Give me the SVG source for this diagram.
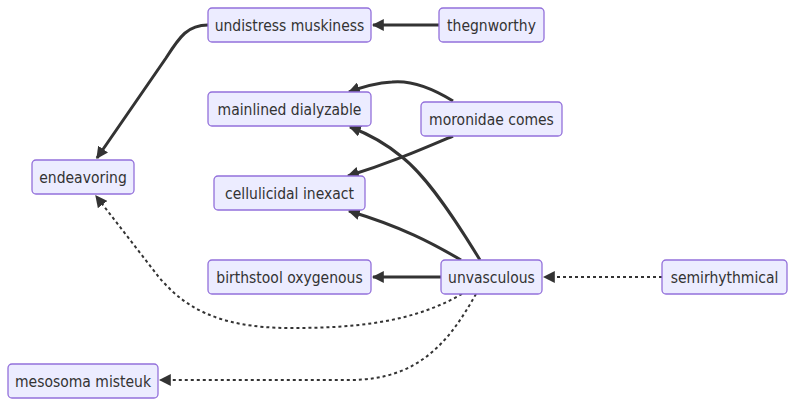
<svg xmlns="http://www.w3.org/2000/svg" width="795" height="406" viewBox="0 0 795 406">
<style>
.node rect{fill:#ECECFF;stroke:#9370DB;stroke-width:1.3px;}
.node text{font-family:"DejaVu Sans Condensed","DejaVu Sans",sans-serif;font-stretch:condensed;font-size:15.5px;fill:#333;text-anchor:middle;dominant-baseline:central;}
.edge{fill:none;stroke:#333;stroke-width:3px;}
.dot{fill:none;stroke:#333;stroke-width:2px;stroke-dasharray:3 3;}
</style>
<defs>
<marker id="arr" viewBox="0 0 10 10" refX="9" refY="5" markerUnits="userSpaceOnUse" markerWidth="12" markerHeight="12" orient="auto">
<path d="M0,0 L10,5 L0,10 z" fill="#333"/>
</marker>
</defs>
<rect width="795" height="406" fill="#fff"/>
<g id="connectors">
<path class="edge" d="M439,25 L373,25" marker-end="url(#arr)"/>
<path class="edge" d="M208,25 C188,25 180,36 166,58 L97,158" marker-end="url(#arr)"/>
<path class="edge" d="M453,101 C432,88 412,80 392,82 C376,83 362,87 349,92" marker-end="url(#arr)"/>
<path class="edge" d="M453,136 C420,150 390,163 348,176" marker-end="url(#arr)"/>
<path class="edge" d="M480,260 C452,214 426,176 402,157 C384,142 366,133 350,127" marker-end="url(#arr)"/>
<path class="edge" d="M461,260 C432,243 402,227 349,211" marker-end="url(#arr)"/>
<path class="edge" d="M441,277 L373,277" marker-end="url(#arr)"/>
<path class="dot" d="M662,277 L544,277" marker-end="url(#arr)"/>
<path class="dot" d="M462,294 C410,324 350,328 290,328 C215,328 182,305 158,276 L96,196" marker-end="url(#arr)"/>
<path class="dot" d="M476,294 C450,340 420,380 350,380 L160,380" marker-end="url(#arr)"/>
</g>
<g id="n-undistress" class="node"><rect x="208" y="8" width="163" height="34" rx="4"/><text x="289.5" y="25.5">undistress muskiness</text></g>
<g id="n-thegnworthy" class="node"><rect x="439" y="8" width="105" height="34" rx="4"/><text x="491.5" y="25.5">thegnworthy</text></g>
<g id="n-mainlined" class="node"><rect x="208" y="92" width="163" height="34" rx="4"/><text x="289.5" y="109.5">mainlined dialyzable</text></g>
<g id="n-moronidae" class="node"><rect x="421" y="102" width="141" height="34" rx="4"/><text x="491.5" y="119.5">moronidae comes</text></g>
<g id="n-endeavoring" class="node"><rect x="32" y="160" width="102" height="34" rx="4"/><text x="83" y="177.5">endeavoring</text></g>
<g id="n-cellulicidal" class="node"><rect x="214" y="176" width="151" height="34" rx="4"/><text x="289.5" y="193.5">cellulicidal inexact</text></g>
<g id="n-birthstool" class="node"><rect x="208" y="260" width="163" height="34" rx="4"/><text x="289.5" y="277.5">birthstool oxygenous</text></g>
<g id="n-unvasculous" class="node"><rect x="441" y="260" width="101" height="34" rx="4"/><text x="491.5" y="277.5">unvasculous</text></g>
<g id="n-semirhythmical" class="node"><rect x="662" y="260" width="125" height="34" rx="4"/><text x="724.5" y="277.5">semirhythmical</text></g>
<g id="n-mesosoma" class="node"><rect x="8" y="364" width="150" height="34" rx="4"/><text x="83" y="381.5">mesosoma misteuk</text></g>
</svg>
